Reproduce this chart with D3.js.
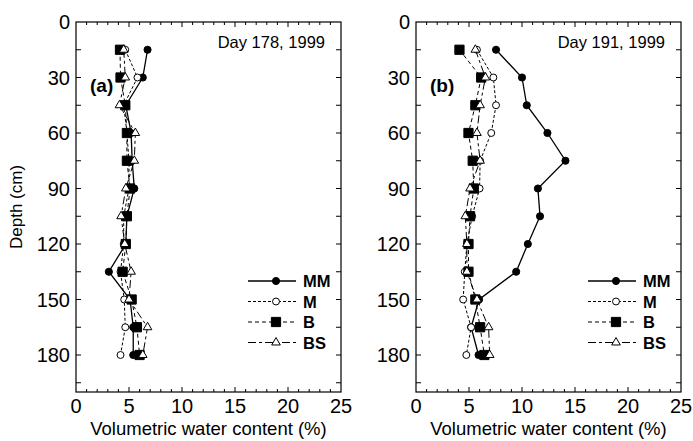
<!DOCTYPE html>
<html>
<head>
<meta charset="utf-8">
<script src="https://cdn.jsdelivr.net/npm/d3@7"></script>
<style>
  body { margin: 0; background: #fff; }
  svg text { font-family: "Liberation Sans", Arial, sans-serif; fill: #000; }
</style>
</head>
<body>
<svg id="chart" width="693" height="441"></svg>
<script>
const depths = [15, 30, 45, 60, 75, 90, 105, 120, 135, 150, 165, 180];
const seriesNames = ['MM', 'M', 'B', 'BS'];
const xTicks = [0, 5, 10, 15, 20, 25];
const yTicks = [0, 30, 60, 90, 120, 150, 180];

// Day 178
const mmA = [6.75, 6.3, 4.7, 5.2, 5.3, 5.5, 4.8, 4.7, 3.1, 5.1, 5.4, 5.4];
const mA  = [4.65, 5.8, 4.5, 4.8, 5.0, 5.0, 4.5, 4.5, 4.2, 4.55, 4.65, 4.2];
const bA  = [4.15, 4.2, 4.65, 4.8, 4.8, 5.1, 4.8, 4.7, 4.4, 5.25, 5.75, 6.0];
const bsA = [4.5, 4.65, 4.1, 5.6, 5.5, 4.7, 4.25, 4.6, 5.2, 5.0, 6.75, 6.3];

// Day 191
const mmB = [7.55, 10.0, 10.45, 12.4, 14.1, 11.5, 11.7, 10.55, 9.45, 5.95, 5.2, 5.9];
const mB  = [5.75, 7.3, 7.55, 7.1, 6.05, 6.0, 5.3, 4.8, 4.6, 4.45, 5.2, 4.75];
const bB  = [4.1, 6.15, 5.6, 4.95, 5.35, 5.45, 5.1, 4.95, 4.95, 5.6, 6.05, 6.45];
const bsB = [5.6, 6.55, 6.05, 5.75, 6.05, 5.1, 4.65, 4.8, 4.8, 5.75, 6.85, 6.95];

const styles = {
  MM: { dash: null, width: 1.3, symbol: d3.symbolCircle, size: 40, fill: '#000' },
  M:  { dash: '3,2', width: 1, symbol: d3.symbolCircle, size: 38, fill: '#fff' },
  B:  { dash: '4,3', width: 1, symbol: d3.symbolSquare, size: 85, fill: '#000' },
  BS: { dash: '8,3,3,3', width: 1, symbol: d3.symbolTriangle, size: 32, fill: '#fff' }
};

const panels = [
  { left: 76, label: '(a)', day: 'Day 178, 1999', data: { MM: mmA, M: mA, B: bA, BS: bsA } },
  { left: 416, label: '(b)', day: 'Day 191, 1999', data: { MM: mmB, M: mB, B: bB, BS: bsB } }
];

const svg = d3.select('#chart');
const plotTop = 22, plotBottom = 392, plotW = 265;

const y = d3.scaleLinear().domain([0, 200]).range([plotTop, plotBottom]);

panels.forEach(p => {
  const x = d3.scaleLinear().domain([0, 25]).range([p.left, p.left + plotW]);
  const g = svg.append('g');

  // frame
  g.append('rect')
    .attr('x', p.left).attr('y', plotTop)
    .attr('width', plotW).attr('height', plotBottom - plotTop)
    .attr('fill', 'none').attr('stroke', '#000').attr('stroke-width', 1.2);

  // minor / major x ticks, bottom and top, inward
  d3.range(1, 25).forEach(v => {
    const len = v % 5 === 0 ? 5 : 3;
    g.append('line').attr('x1', x(v)).attr('x2', x(v))
      .attr('y1', plotBottom).attr('y2', plotBottom - len).attr('stroke', '#000');
    g.append('line').attr('x1', x(v)).attr('x2', x(v))
      .attr('y1', plotTop).attr('y2', plotTop + len).attr('stroke', '#000');
  });
  // y ticks every 15, left and right
  d3.range(15, 200, 15).forEach(v => {
    const len = 5;
    g.append('line').attr('x1', p.left).attr('x2', p.left + len)
      .attr('y1', y(v)).attr('y2', y(v)).attr('stroke', '#000');
    g.append('line').attr('x1', p.left + plotW).attr('x2', p.left + plotW - len)
      .attr('y1', y(v)).attr('y2', y(v)).attr('stroke', '#000');
  });

  // tick labels
  g.selectAll('.xl').data(xTicks).enter().append('text')
    .attr('x', d => x(d)).attr('y', 413)
    .attr('text-anchor', 'middle').attr('font-size', 20)
    .text(d => d);
  g.selectAll('.yl').data(yTicks).enter().append('text')
    .attr('x', p.left - 6).attr('y', d => y(d) + 7)
    .attr('text-anchor', 'end').attr('font-size', 20)
    .text(d => d);

  g.append('text')
    .attr('x', p.left + plotW / 2).attr('y', 435)
    .attr('text-anchor', 'middle').attr('font-size', 18.5)
    .text('Volumetric water content (%)');

  g.append('text')
    .attr('x', p.left + plotW - 16).attr('y', 48)
    .attr('text-anchor', 'end').attr('font-size', 16.5)
    .text(p.day);

  g.append('text')
    .attr('x', p.left + 14).attr('y', 92)
    .attr('font-size', 19).attr('font-weight', 'bold')
    .text(p.label);

  // series
  seriesNames.forEach(name => {
    const s = styles[name];
    const vals = p.data[name];
    const pts = depths.map((d, i) => [vals[i], d]);
    g.append('path')
      .datum(pts)
      .attr('fill', 'none').attr('stroke', '#000')
      .attr('stroke-width', s.width)
      .attr('stroke-dasharray', s.dash)
      .attr('d', d3.line().x(d => x(d[0])).y(d => y(d[1])));
    g.selectAll('.pt-' + name).data(pts).enter().append('path')
      .attr('transform', d => `translate(${x(d[0])},${y(d[1])})`)
      .attr('d', d3.symbol().type(s.symbol).size(s.size))
      .attr('fill', s.fill).attr('stroke', '#000').attr('stroke-width', 1);
  });

  // legend
  const lx = p.left + plotW - 93;
  seriesNames.forEach((name, i) => {
    const s = styles[name];
    const ly = 281 + i * 20.5;
    g.append('line')
      .attr('x1', lx).attr('x2', lx + 48)
      .attr('y1', ly).attr('y2', ly)
      .attr('stroke', '#000').attr('stroke-width', s.width)
      .attr('stroke-dasharray', s.dash);
    g.append('path')
      .attr('transform', `translate(${lx + 28},${ly})`)
      .attr('d', d3.symbol().type(s.symbol).size(s.size))
      .attr('fill', s.fill).attr('stroke', '#000');
    g.append('text')
      .attr('x', lx + 55).attr('y', ly + 6)
      .attr('font-size', 16.5).attr('font-weight', 'bold')
      .text(name);
  });
});

svg.append('text')
  .attr('transform', `translate(22,${y(100)}) rotate(-90)`)
  .attr('text-anchor', 'middle').attr('font-size', 17)
  .text('Depth (cm)');
</script>
</body>
</html>
